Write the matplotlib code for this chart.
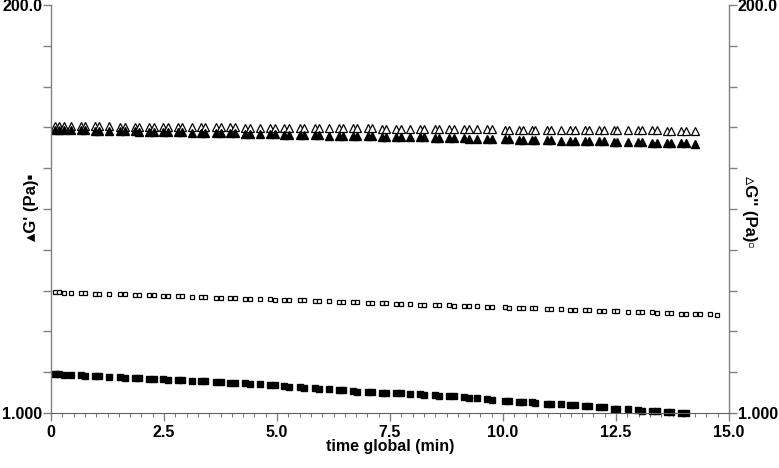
import numpy as np
import matplotlib
matplotlib.use("Agg")
import matplotlib.pyplot as plt
from matplotlib.ticker import FixedLocator, FixedFormatter, MultipleLocator

# time axis shared by all series (min)
time_min = [0.08, 0.18, 0.29, 0.45, 0.67, 0.76, 0.98, 1.07, 1.29, 1.53,
            1.63, 1.85, 1.95, 2.17, 2.27, 2.48, 2.58, 2.80, 2.90, 3.12,
            3.32, 3.41, 3.65, 3.75, 3.97, 4.06, 4.30, 4.41, 4.63, 4.85,
            4.95, 5.16, 5.26, 5.50, 5.59, 5.83, 5.92, 6.14, 6.37, 6.46,
            6.68, 6.77, 7.01, 7.10, 7.32, 7.42, 7.64, 7.74, 7.95, 8.16,
            8.25, 8.49, 8.59, 8.80, 8.91, 9.13, 9.24, 9.42, 9.65, 9.76,
            10.04, 10.13, 10.35, 10.44, 10.64, 10.71, 10.97, 11.07, 11.29, 11.49,
            11.59, 11.81, 11.91, 12.13, 12.23, 12.45, 12.52, 12.77, 12.99, 13.08,
            13.30, 13.41, 13.63, 13.72, 13.94, 14.05, 14.25, 14.36, 14.57, 14.73]

# G'' open triangles (Pa)
g2_tri = [41.5, 41.5, 41.4, 41.4, 41.4, 41.4, 41.3, 41.3, 41.3, 41.2,
          41.2, 41.2, 41.2, 41.1, 41.1, 41.1, 41.0, 41.0, 41.0, 41.0,
          40.9, 40.9, 40.9, 40.8, 40.8, 40.8, 40.7, 40.7, 40.7, 40.7,
          40.6, 40.6, 40.6, 40.5, 40.5, 40.5, 40.5, 40.4, 40.4, 40.4,
          40.3, 40.3, 40.3, 40.3, 40.2, 40.2, 40.2, 40.1, 40.1, 40.1,
          40.1, 40.0, 40.0, 40.0, 39.9, 39.9, 39.9, 39.9, 39.8, 39.8,
          39.7, 39.7, 39.7, 39.7, 39.6, 39.6, 39.6, 39.6, 39.5, 39.5,
          39.5, 39.4, 39.4, 39.4, 39.4, 39.3, 39.3, 39.3, 39.2, 39.2,
          39.2, 39.2, 39.1, 39.1, 39.1, 39.0, 39.0]

# G' filled triangles (Pa)
g1_tri = [39.5, 39.4, 39.4, 39.3, 39.2, 39.2, 39.1, 39.0, 38.9, 38.8,
          38.8, 38.7, 38.6, 38.5, 38.5, 38.4, 38.3, 38.2, 38.2, 38.1,
          38.0, 38.0, 37.9, 37.8, 37.7, 37.7, 37.6, 37.5, 37.4, 37.3,
          37.3, 37.2, 37.1, 37.0, 37.0, 36.9, 36.8, 36.7, 36.6, 36.6,
          36.5, 36.5, 36.3, 36.3, 36.2, 36.2, 36.1, 36.0, 35.9, 35.8,
          35.8, 35.7, 35.6, 35.5, 35.5, 35.4, 35.3, 35.3, 35.2, 35.1,
          35.0, 34.9, 34.8, 34.8, 34.7, 34.7, 34.6, 34.5, 34.4, 34.3,
          34.3, 34.2, 34.1, 34.0, 34.0, 33.9, 33.9, 33.8, 33.7, 33.6,
          33.5, 33.5, 33.4, 33.3, 33.2, 33.2, 33.1]

# G'' open squares (Pa)
g2_sq = [4.80, 4.79, 4.78, 4.77, 4.75, 4.74, 4.72, 4.71, 4.69, 4.67,
         4.66, 4.64, 4.63, 4.61, 4.60, 4.58, 4.57, 4.55, 4.54, 4.52,
         4.51, 4.50, 4.48, 4.47, 4.45, 4.44, 4.42, 4.41, 4.39, 4.37,
         4.36, 4.35, 4.34, 4.32, 4.31, 4.29, 4.28, 4.26, 4.24, 4.23,
         4.22, 4.21, 4.19, 4.18, 4.16, 4.15, 4.14, 4.13, 4.11, 4.09,
         4.08, 4.06, 4.06, 4.04, 4.03, 4.01, 4.00, 3.99, 3.97, 3.96,
         3.94, 3.93, 3.92, 3.91, 3.89, 3.89, 3.87, 3.86, 3.84, 3.83,
         3.82, 3.80, 3.79, 3.78, 3.77, 3.75, 3.75, 3.73, 3.71, 3.70,
         3.69, 3.68, 3.66, 3.66, 3.64, 3.63, 3.62, 3.61, 3.60, 3.59]

# G' filled squares (Pa)
g1_sq = [1.65, 1.65, 1.64, 1.64, 1.63, 1.62, 1.61, 1.61, 1.60, 1.59,
         1.58, 1.57, 1.57, 1.56, 1.56, 1.55, 1.54, 1.54, 1.53, 1.52,
         1.51, 1.51, 1.50, 1.49, 1.48, 1.48, 1.47, 1.46, 1.45, 1.44,
         1.43, 1.42, 1.41, 1.40, 1.39, 1.38, 1.37, 1.36, 1.35, 1.34,
         1.33, 1.32, 1.31, 1.31, 1.30, 1.30, 1.29, 1.29, 1.28, 1.28,
         1.27, 1.26, 1.25, 1.24, 1.24, 1.23, 1.22, 1.21, 1.20, 1.19,
         1.17, 1.17, 1.16, 1.15, 1.15, 1.14, 1.13, 1.13, 1.12, 1.11,
         1.11, 1.10, 1.09, 1.08, 1.08, 1.06, 1.06, 1.05, 1.04, 1.03,
         1.02, 1.02, 1.01, 1.01, 1.00, 1.00]

Y_MIN, Y_MAX = 1.0, 200.0
x_ticks = [0, 2.5, 5.0, 7.5, 10.0, 12.5, 15.0]
x_tick_labels = ["0", "2.5", "5.0", "7.5", "10.0", "12.5", "15.0"]

plt.rcParams['font.family'] = ['Liberation Sans', 'DejaVu Sans']

fig = plt.figure(figsize=(7.79, 4.68), dpi=100)
ax = fig.add_axes([51 / 779, 1 - 413 / 468, 678 / 779, 408 / 468])

t = np.array(time_min)
ax.plot(t[:len(g2_tri)], g2_tri, linestyle='none', marker='^', markersize=5.5,
        markerfacecolor='white', markeredgecolor='black', markeredgewidth=0.9, clip_on=False)
ax.plot(t[:len(g1_tri)], g1_tri, linestyle='none', marker='^', markersize=5.5,
        color='black', clip_on=False)
ax.plot(t[:len(g2_sq)], g2_sq, linestyle='none', marker='s', markersize=3.5,
        markerfacecolor='white', markeredgecolor='black', markeredgewidth=0.9, clip_on=False)
ax.plot(t[:len(g1_sq)], g1_sq, linestyle='none', marker='s', markersize=3.8,
        color='black', clip_on=False)

ax.set_yscale('log')
ax.set_ylim(Y_MIN, Y_MAX)
ax.set_xlim(0, 15)

# ten equal log steps between the ends, only the ends labelled
y_ticks = [Y_MIN * (Y_MAX / Y_MIN) ** (k / 10) for k in range(11)]
y_labels = ["1.000"] + [""] * 9 + ["200.0"]
ax.yaxis.set_major_locator(FixedLocator(y_ticks))
ax.yaxis.set_major_formatter(FixedFormatter(y_labels))
ax.yaxis.set_minor_locator(FixedLocator([]))

ax.xaxis.set_major_locator(FixedLocator(x_ticks))
ax.xaxis.set_major_formatter(FixedFormatter(x_tick_labels))
ax.xaxis.set_minor_locator(MultipleLocator(0.25))

for side in ['left', 'right']:
    ax.spines[side].set_color('#808080')
    ax.spines[side].set_linewidth(1.0)
ax.spines['bottom'].set_color('#606060')
ax.spines['top'].set_visible(False)

ax.tick_params(axis='y', which='major', direction='out', length=5.5, width=1,
               color='#808080', left=True, right=True, labelleft=True, labelright=True,
               labelsize=11.5, pad=0.8)
ax.tick_params(axis='x', which='major', direction='out', length=5.5, width=1,
               color='#808080', labelsize=11.5, pad=3)
ax.tick_params(axis='x', which='minor', direction='out', length=3, width=0.8,
               color='#808080')
for lbl in ax.get_xticklabels() + ax.get_yticklabels():
    lbl.set_fontweight('bold')

ax.set_xlabel('time global (min)', fontsize=11.5, fontweight='bold', va='top')
ax.xaxis.set_label_coords(0.5, -0.063)

fig.text(32 / 779, 1 - 207 / 468, "\u25b4G' (Pa)\u25aa", rotation=90, ha='center', va='center',
         fontsize=12, fontweight='bold')
fig.text(749 / 779, 1 - 212 / 468, "\u25b5G'' (Pa)\u25ab", rotation=-90, ha='center', va='center',
         fontsize=12, fontweight='bold')

fig.savefig('out.png', dpi=100)
